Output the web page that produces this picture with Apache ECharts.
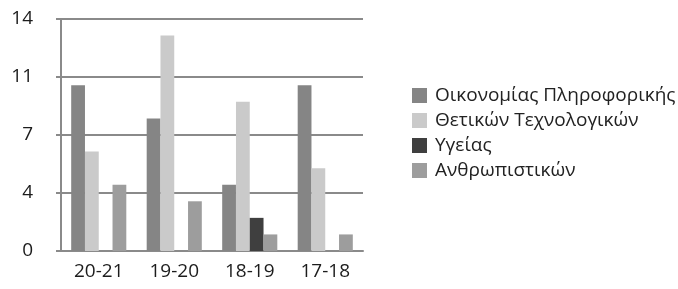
<!DOCTYPE html>
<html>
<head>
<meta charset="utf-8">
<script src="https://cdn.jsdelivr.net/npm/echarts@6/dist/echarts.min.js"></script>
<style>
  html, body { margin: 0; padding: 0; background: #fff; }
  #main { width: 678px; height: 289px; }
</style>
</head>
<body>
<div id="main"></div>
<script>
// academic years (x axis)
const years = ['20-21', '19-20', '18-19', '17-18'];

// one array per school
const oikonomias = [10, 8, 4, 10];
const thetikon = [6, 13, 9, 5];
const ygeias = [0, 0, 2, 0];
const anthropistikon = [4, 3, 1, 1];

const seriesNames = ['Οικονομίας Πληροφορικής', 'Θετικών Τεχνολογικών', 'Υγείας', 'Ανθρωπιστικών'];
const seriesColors = ['#858585', '#cacaca', '#3f3f3f', '#9d9d9d'];
const seriesData = [oikonomias, thetikon, ygeias, anthropistikon];

const font = '"Open Sans", "Noto Sans", sans-serif';

var chart = echarts.init(document.getElementById('main'));
chart.setOption({
  animation: false,
  textStyle: { fontFamily: font },
  grid: { left: 61, right: 315, top: 19, bottom: 38 },
  legend: {
    orient: 'vertical',
    left: 407,
    top: 81,
    itemWidth: 15,
    itemHeight: 15,
    itemGap: 6,
    icon: 'rect',
    textStyle: { fontSize: 19, lineHeight: 19, color: '#222', fontFamily: font, padding: [0, 0, 0, 3] }
  },
  xAxis: {
    type: 'category',
    data: years,
    axisLine: { lineStyle: { color: '#8a8a8a', width: 2 } },
    axisTick: { length: 6, lineStyle: { color: '#8a8a8a', width: 2 } },
    axisLabel: { fontSize: 19, color: '#1c1c1c', margin: 11, fontFamily: font }
  },
  yAxis: {
    type: 'value',
    min: 0,
    max: 14,
    interval: 3.5,
    axisLine: { show: true, lineStyle: { color: '#8a8a8a', width: 2 } },
    axisTick: { show: true, length: 5, lineStyle: { color: '#8a8a8a', width: 2 } },
    splitLine: { lineStyle: { color: '#8a8a8a', width: 2 } },
    axisLabel: {
      fontSize: 19, color: '#1c1c1c', margin: 28, fontFamily: font,
      formatter: function (v) { return Math.round(v); }
    }
  },
  series: seriesNames.map(function (name, i) {
    return {
      name: name,
      type: 'bar',
      data: seriesData[i],
      barGap: '0%',
      barCategoryGap: '27%',
      itemStyle: { color: seriesColors[i] }
    };
  })
});
</script>
</body>
</html>
